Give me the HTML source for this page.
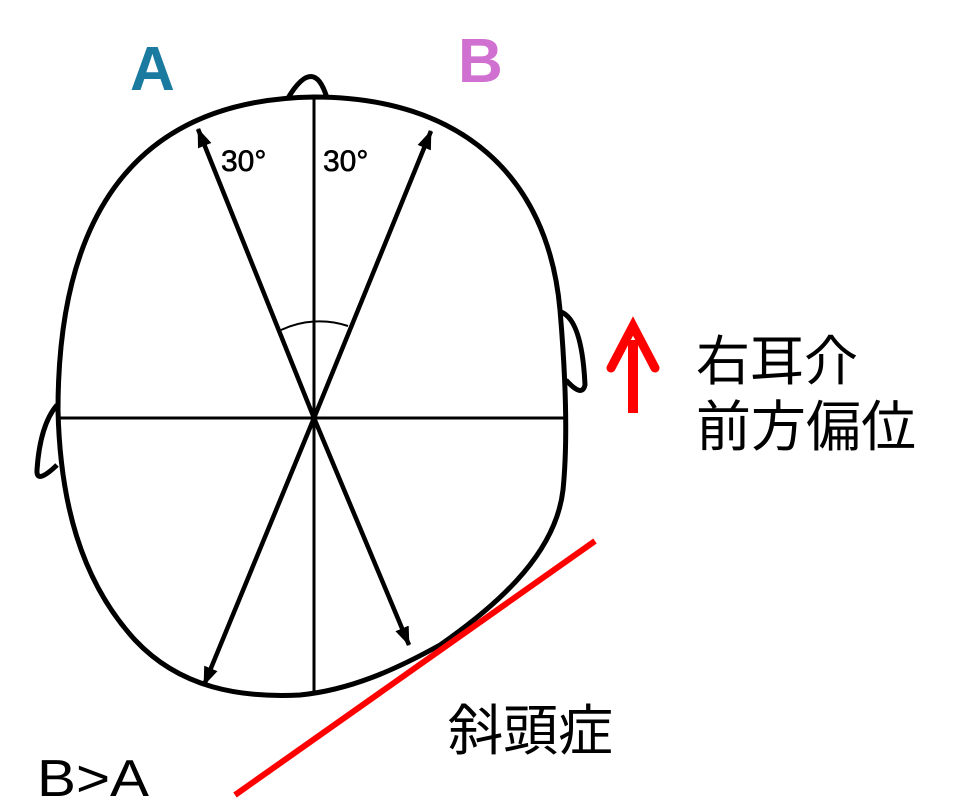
<!DOCTYPE html>
<html><head><meta charset="utf-8"><style>
html,body{margin:0;padding:0;background:#fff;width:960px;height:810px;overflow:hidden}
svg{display:block}
text{font-family:"Liberation Sans","Noto Sans CJK JP",sans-serif}
</style></head><body>
<svg width="960" height="810" viewBox="0 0 960 810" xmlns="http://www.w3.org/2000/svg">
<defs>
<marker id="ah" markerWidth="4.2" markerHeight="3.2" refX="4" refY="1.6" orient="auto" markerUnits="strokeWidth">
<path d="M0,0 L4.2,1.6 L0,3.2 Z" fill="#000"/>
</marker>
</defs>
<g fill="none" stroke="#000" stroke-width="5" stroke-linejoin="round">
<path d="M561,312 Q582,320 585,385 Q582,398 566,380"/>
<path d="M57,405 Q40,425 37,470 Q36,485 57,465"/>
<path d="M288,98 Q314,55 327,98"/>
<path d="M314,97 C460,97 548,175 560,310 C566,380 568,440 563,490 C556,550 505,600 440,645 C395,670 350,690 300,695 C240,698 180,688 135,640 C80,580 60,500 58,410 C58,250 110,100 314,97 Z" fill="#fff"/>
</g>
<g stroke="#000" fill="none">
<line x1="314" y1="97" x2="314" y2="695" stroke-width="3"/>
<line x1="60" y1="418" x2="564" y2="418" stroke-width="3"/>
<path d="M281,330 A90,90 0 0 1 348,326" stroke-width="2"/>
<g stroke-width="4.5">
<line x1="314" y1="418" x2="198" y2="129" marker-end="url(#ah)"/>
<line x1="314" y1="418" x2="431" y2="131" marker-end="url(#ah)"/>
<line x1="314" y1="418" x2="204" y2="685" marker-end="url(#ah)"/>
<line x1="314" y1="418" x2="409" y2="645" marker-end="url(#ah)"/>
</g>
</g>
<line x1="595" y1="541" x2="235" y2="795" stroke="#f00" stroke-width="6"/>
<line x1="633" y1="413" x2="633" y2="340" stroke="#f00" stroke-width="10"/>
<path d="M611,368 L633,326 L655,368" fill="none" stroke="#f00" stroke-width="9" stroke-linecap="round" stroke-linejoin="miter"/>
<text x="130" y="90" font-size="62" font-weight="bold" fill="#1a7aa0">A</text>
<text x="458" y="82" font-size="62" font-weight="bold" fill="#d070d0">B</text>
<text x="221" y="171" font-size="30" stroke="#000" stroke-width="0.6">30°</text>
<text x="323" y="171" font-size="30" stroke="#000" stroke-width="0.6">30°</text>
<text x="696" y="380" font-size="54">右耳介</text>
<text x="696" y="446" font-size="55">前方偏位</text>
<text x="448" y="750" font-size="55">斜頭症</text>
<text x="37" y="796" font-size="52" font-weight="300" textLength="112" lengthAdjust="spacingAndGlyphs">B&gt;A</text>
</svg>
</body></html>
